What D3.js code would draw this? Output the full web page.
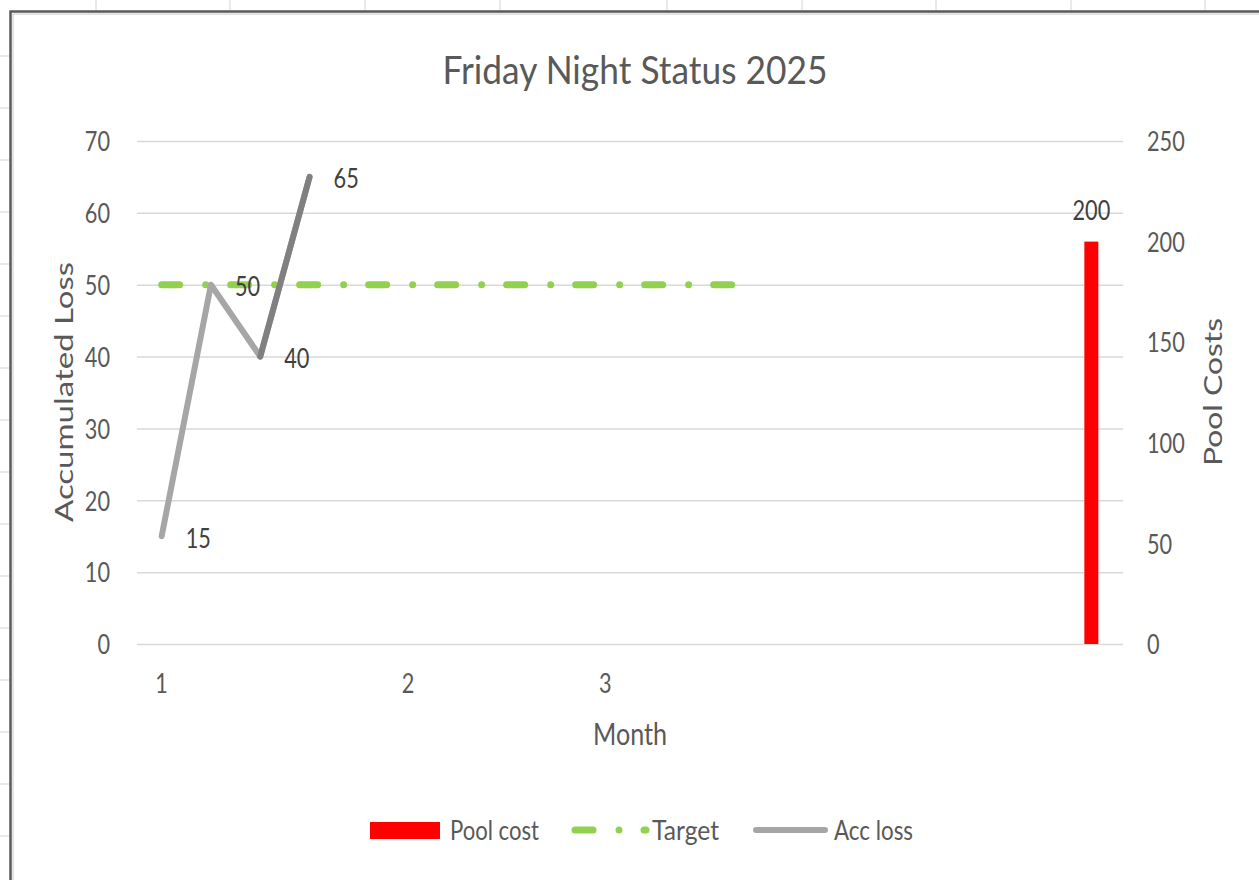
<!DOCTYPE html>
<html>
<head>
<meta charset="utf-8">
<script src="https://cdn.jsdelivr.net/npm/d3@7"></script>
<style>
  html, body { margin: 0; padding: 0; background: #ffffff; }
  svg { display: block; font-family: Lato, "Noto Sans", sans-serif; }
</style>
</head>
<body>
<svg id="chart" width="1259" height="880"></svg>
<script>
// ---------------- data ----------------
const categories = ["1","","","","","2","","","","3","","","","","","","","","",""];
const accLoss    = [15, 50, 40, 65];
const target     = [50, 50, 50, 50, 50, 50, 50, 50, 50, 50, 50, 50, 50];
const poolCost   = [null,null,null,null,null,null,null,null,null,null,null,null,null,null,null,null,null,null,null,200];
const leftTicks  = [0, 10, 20, 30, 40, 50, 60, 70];
const rightTicks = [0, 50, 100, 150, 200, 250];
const seriesNames = ["Pool cost", "Target", "Acc loss"];
const titleText = "Friday Night Status 2025";

// ---------------- layout / style ----------------
const W = 1259, H = 880;
const plot = { left: 137, right: 1123, top: 141, bottom: 644 };
const textColor = "#595959", labelColor = "#404040", gridColor = "#d9d9d9";
const green = "#92d050", red = "#ff0000", greyLight = "#a6a6a6", greyDark = "#808080";
const charW = 12.6;

const svg = d3.select("#chart");

// spreadsheet background
const sheetCols = [96, 230, 365, 500, 667, 802, 936, 1071, 1205];
svg.append("g").selectAll("line").data(sheetCols).join("line")
  .attr("x1", d => d).attr("x2", d => d).attr("y1", 0).attr("y2", 10)
  .attr("stroke", "#d4d4d4").attr("stroke-width", 1);
const sheetRows = d3.range(56, 880, 52);
svg.append("g").selectAll("line").data(sheetRows).join("line")
  .attr("x1", 0).attr("x2", 9).attr("y1", d => d).attr("y2", d => d)
  .attr("stroke", "#d4d4d4").attr("stroke-width", 1);
// chart area border
svg.append("path").attr("d", "M10.5,885 V11.5 H1265")
  .attr("fill", "none").attr("stroke", "#5a5a5a").attr("stroke-width", 2.5);
svg.append("path").attr("d", "M13,885 V14 H1265")
  .attr("fill", "none").attr("stroke", "#c8c8c8").attr("stroke-width", 1);

// scales
const x = d3.scaleBand().domain(d3.range(categories.length)).range([plot.left, plot.right]).padding(0);
const xc = i => x(i) + x.bandwidth() / 2;
const yL = d3.scaleLinear().domain([0, 70]).range([plot.bottom, plot.top]);
const yR = d3.scaleLinear().domain([0, 250]).range([plot.bottom, plot.top]);

function fit(sel, w) {
  sel.attr("textLength", w).attr("lengthAdjust", "spacingAndGlyphs");
}

// gridlines
svg.append("g").attr("transform", `translate(${plot.left},0)`)
  .call(d3.axisLeft(yL).tickValues(leftTicks).tickSize(-(plot.right - plot.left)).tickFormat(""))
  .call(g => g.select(".domain").remove())
  .call(g => g.selectAll("line").attr("stroke", gridColor).attr("stroke-width", 1.5));

// left axis
const gl = svg.append("g").attr("transform", `translate(${plot.left},0)`)
  .call(d3.axisLeft(yL).tickValues(leftTicks).tickSize(0).tickPadding(27))
  .call(g => g.select(".domain").remove());
gl.selectAll("text").attr("fill", textColor).attr("font-size", 27).attr("font-family", "Lato")
  .attr("dy", "0.36em").each(function(d) { fit(d3.select(this), String(d).length * charW); });

// right axis
const gr = svg.append("g").attr("transform", `translate(${plot.right},0)`)
  .call(d3.axisRight(yR).tickValues(rightTicks).tickSize(0).tickPadding(24))
  .call(g => g.select(".domain").remove());
gr.selectAll("text").attr("fill", textColor).attr("font-size", 27).attr("font-family", "Lato")
  .attr("dy", "0.36em").each(function(d) { fit(d3.select(this), String(d).length * charW); });

// x axis
const gx = svg.append("g").attr("transform", `translate(0,${plot.bottom})`)
  .call(d3.axisBottom(x).tickFormat(i => categories[i]).tickSize(0).tickPadding(30))
  .call(g => g.select(".domain").remove());
gx.selectAll("text").attr("fill", textColor).attr("font-size", 27).attr("font-family", "Lato")
  .each(function(i) { if (categories[i]) fit(d3.select(this), categories[i].length * charW); });

// bar (Pool cost, secondary axis)
const barW = 14;
const barData = poolCost.map((v, i) => ({ i, v })).filter(d => d.v != null);
svg.append("g").selectAll("rect").data(barData).join("rect")
  .attr("x", d => xc(d.i) - barW).attr("width", barW)
  .attr("y", d => yR(d.v)).attr("height", d => yR(0) - yR(d.v))
  .attr("fill", red);
svg.append("g").selectAll("text").data(barData).join("text")
  .attr("x", d => xc(d.i) - barW / 2).attr("y", d => yR(d.v) - 22)
  .attr("text-anchor", "middle").attr("font-size", 27).attr("fill", labelColor)
  .text(d => d.v).each(function(d) { fit(d3.select(this), String(d.v).length * charW); });

// target line
const dash = "18 26 0 25";
const lineT = d3.line().x((d, i) => xc(i)).y(d => yL(d));
svg.append("path").datum(target).attr("d", lineT)
  .attr("fill", "none").attr("stroke", green).attr("stroke-width", 7)
  .attr("stroke-linecap", "round").attr("stroke-dasharray", dash);

// acc loss line
const lineA = d3.line().x((d, i) => xc(i)).y(d => yL(d));
svg.append("path").datum(accLoss).attr("d", lineA)
  .attr("fill", "none").attr("stroke", greyLight).attr("stroke-width", 6)
  .attr("stroke-linejoin", "round").attr("stroke-linecap", "round");
// last segment formatted darker
const lastSeg = accLoss.slice(-2);
const n0 = accLoss.length - 2;
svg.append("path").datum(lastSeg)
  .attr("d", d3.line().x((d, k) => xc(n0 + k)).y(d => yL(d)))
  .attr("fill", "none").attr("stroke", greyDark).attr("stroke-width", 6)
  .attr("stroke-linecap", "round");
// data labels
svg.append("g").selectAll("text").data(accLoss).join("text")
  .attr("x", (d, i) => xc(i) + 24).attr("y", d => yL(d))
  .attr("dy", "0.42em").attr("font-size", 27).attr("fill", labelColor)
  .text(d => d).each(function(d) { fit(d3.select(this), String(d).length * charW); });

// title
svg.append("text").attr("x", 635).attr("y", 84).attr("text-anchor", "middle")
  .attr("font-size", 39).attr("fill", textColor).text(titleText)
  .call(s => fit(s, 385));

// axis titles
svg.append("text").attr("x", (plot.left + plot.right) / 2).attr("y", 745).attr("text-anchor", "middle")
  .attr("font-size", 31).attr("fill", textColor).text("Month").call(s => fit(s, 74));
svg.append("text").attr("transform", "translate(73,392) rotate(-90)").attr("text-anchor", "middle")
  .attr("font-size", 25).attr("fill", textColor).text("Accumulated Loss").call(s => fit(s, 260));
svg.append("text").attr("transform", "translate(1222,392) rotate(-90)").attr("text-anchor", "middle")
  .attr("font-size", 25).attr("fill", textColor).text("Pool Costs").call(s => fit(s, 148));

// legend
const lg = svg.append("g");
const ly = 830;
lg.append("rect").attr("x", 370).attr("y", ly - 8).attr("width", 70).attr("height", 17).attr("fill", red);
lg.append("text").attr("x", 450).attr("y", ly + 10).attr("font-size", 27).attr("fill", textColor)
  .text(seriesNames[0]).call(s => fit(s, 89));
lg.append("path").attr("d", `M575,${ly} H646`).attr("fill", "none").attr("stroke", green)
  .attr("stroke-width", 7).attr("stroke-linecap", "round").attr("stroke-dasharray", dash);
lg.append("text").attr("x", 652).attr("y", ly + 10).attr("font-size", 27).attr("fill", textColor)
  .text(seriesNames[1]).call(s => fit(s, 67));
lg.append("line").attr("x1", 756).attr("x2", 825).attr("y1", ly).attr("y2", ly)
  .attr("stroke", greyLight).attr("stroke-width", 6).attr("stroke-linecap", "round");
lg.append("text").attr("x", 834).attr("y", ly + 10).attr("font-size", 27).attr("fill", textColor)
  .text(seriesNames[2]).call(s => fit(s, 79));
</script>
</body>
</html>
